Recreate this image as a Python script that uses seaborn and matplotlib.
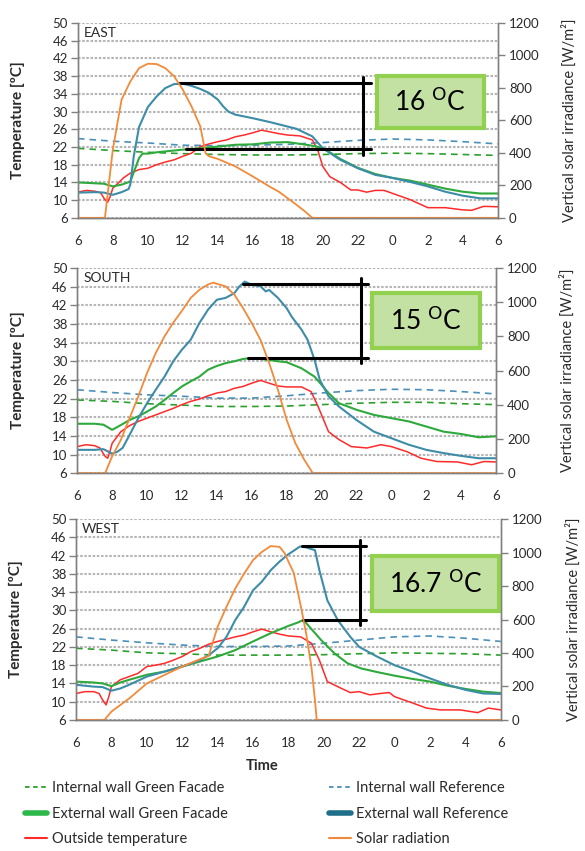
import matplotlib
matplotlib.use("Agg")
import matplotlib.pyplot as plt
import seaborn as sns
from matplotlib.lines import Line2D
from matplotlib.patches import Rectangle

sns.set_style("white")
plt.rcParams['font.family'] = ['Lato', 'DejaVu Sans']
plt.rcParams['mathtext.fontset'] = 'dejavusans'

# ---- data (hours from 6:00, 30 = 6:00 next day; temperatures in ºC, sun in W/m2)
xticks = [6, 8, 10, 12, 14, 16, 18, 20, 22, 24, 26, 28, 30]
xticklabels = ["6", "8", "10", "12", "14", "16", "18", "20", "22", "0", "2", "4", "6"]
wall_h = [6, 8, 10, 12, 14, 16, 18, 20, 22, 24, 26, 28, 30]

# EAST
east_sun_h = [6, 7.55, 8, 8.5, 9, 9.5, 10, 10.5, 11, 11.5, 12, 12.5, 13, 13.3, 13.5, 14, 15, 16, 17, 17.5, 18, 18.5, 19, 19.4, 30]
east_sun_w = [0, 0, 420, 728, 840, 922, 949, 947, 922, 872, 789, 686, 563, 398, 379, 363, 317, 255, 190, 160, 120, 80, 38, 0, 0]
east_ref_h = [6, 7, 7.5, 8, 8.5, 8.9, 9.0, 9.2, 9.5, 10, 10.5, 11, 11.5, 12, 12.5, 13, 13.5, 14, 14.3, 14.6, 15, 16, 17, 18, 18.5, 19.4, 20, 21, 22, 23, 24, 25, 26, 27, 28, 29, 30]
east_ref_t = [11.7, 11.8, 11.7, 11.2, 11.8, 12.5, 13.5, 20.0, 26.5, 31.0, 33.4, 35.3, 36.2, 36.3, 35.8, 35.1, 34.2, 32.7, 31.2, 30.0, 29.3, 28.5, 27.6, 26.6, 26.1, 24.4, 21.7, 19.1, 17.2, 15.7, 15.0, 14.1, 13.1, 11.9, 11.0, 10.4, 10.4]
east_gf_h = [6, 7, 7.5, 8, 8.5, 9, 9.5, 9.7, 10, 10.5, 11, 12, 13, 14, 15, 16, 17, 18, 19.4, 20, 21, 22, 23, 24, 25, 26, 27, 28, 29, 30]
east_gf_t = [14.0, 13.8, 13.7, 13.1, 13.5, 14.2, 19.5, 20.5, 20.5, 20.8, 21.0, 21.4, 21.7, 22.1, 22.5, 22.6, 23.0, 23.1, 22.3, 21.8, 19.3, 17.3, 15.9, 15.0, 14.4, 13.5, 12.6, 11.9, 11.5, 11.5]
east_out_h = [6, 6.5, 7, 7.3, 7.5, 7.7, 7.85, 8, 8.3, 8.6, 9, 9.5, 10, 10.5, 11, 11.5, 12, 12.5, 13, 13.5, 14, 14.5, 15, 15.5, 16, 16.5, 17, 17.5, 18, 18.7, 19.4, 19.7, 20, 20.4, 21, 21.6, 22, 22.5, 23, 23.5, 24, 25, 25.5, 26, 27, 28, 28.5, 29.2, 30]
east_out_t = [11.8, 12.2, 12.0, 11.7, 10.4, 9.5, 10.8, 12.7, 13.8, 15.0, 16.1, 16.9, 17.2, 18.0, 18.6, 19.1, 19.9, 20.6, 22.1, 22.7, 23.2, 23.6, 24.3, 24.7, 25.2, 25.8, 25.4, 25.0, 24.7, 24.5, 23.6, 21.4, 17.6, 15.3, 14.0, 12.3, 12.3, 11.8, 12.2, 12.2, 11.5, 10.1, 9.2, 8.3, 8.3, 7.8, 7.7, 8.6, 8.5]
east_int_ref = [23.9, 23.3, 22.9, 22.4, 22.3, 22.4, 22.6, 23.0, 23.5, 23.8, 23.6, 23.2, 22.7]
east_int_gf = [21.7, 21.2, 20.8, 20.5, 20.3, 20.2, 20.2, 20.3, 20.5, 20.6, 20.5, 20.3, 20.1]

# SOUTH
south_sun_h = [6, 7.6, 8, 8.5, 9, 9.5, 10, 10.5, 11, 11.5, 12, 12.5, 13, 13.5, 13.8, 14, 14.5, 15, 15.5, 16, 16.5, 17, 17.5, 18, 18.5, 19, 19.5, 30]
south_sun_w = [0, 0, 98, 195, 322, 449, 586, 703, 800, 880, 950, 1025, 1073, 1104, 1115, 1108, 1093, 1045, 966, 878, 780, 644, 488, 312, 175, 80, 0, 0]
south_ref_h = [6, 7, 7.5, 8, 8.3, 8.6, 9, 9.5, 10, 10.5, 11, 11.5, 12, 12.5, 13, 13.5, 14, 14.5, 15, 15.3, 15.6, 16, 16.5, 16.8, 17, 17.5, 18, 18.3, 18.85, 19.2, 19.6, 19.9, 20.4, 21, 22, 23, 24, 25, 26, 27, 28, 29, 30]
south_ref_t = [11.0, 11.0, 11.15, 10.2, 10.6, 11.4, 14.2, 17.8, 21.0, 23.9, 26.7, 30.0, 32.5, 34.6, 38.2, 41.1, 43.2, 43.6, 44.6, 46.1, 47.1, 46.4, 46.1, 45.0, 45.3, 43.6, 41.4, 39.5, 36.8, 34.6, 30.3, 26.0, 22.5, 20.3, 17.4, 14.9, 13.5, 12.1, 11.0, 10.3, 9.7, 9.2, 9.2]
south_gf_h = [6, 7, 7.5, 8, 8.3, 9, 9.5, 10, 10.5, 11, 11.5, 12, 12.5, 13, 13.5, 14, 14.5, 15, 15.5, 16, 16.5, 17, 17.5, 18, 18.85, 19.6, 20.4, 21, 22, 23, 24, 25, 26, 27, 28, 29, 30]
south_gf_t = [16.6, 16.6, 16.4, 15.3, 15.9, 17.4, 18.2, 19.2, 20.3, 21.7, 23.2, 24.6, 25.7, 26.7, 28.2, 29.0, 29.6, 30.0, 30.5, 30.7, 30.5, 30.3, 30.0, 29.8, 28.5, 26.7, 23.2, 21.0, 19.6, 18.5, 17.8, 17.1, 16.0, 14.9, 14.4, 13.7, 13.9]
south_out_h = [6, 6.5, 7, 7.3, 7.6, 7.75, 7.9, 8, 8.5, 9, 9.5, 10, 10.5, 11, 11.5, 12, 12.5, 13, 13.5, 14, 14.5, 15, 15.5, 16, 16.5, 17, 17.5, 18, 18.85, 19.4, 19.8, 20.4, 21, 21.7, 22.6, 23.4, 24, 24.9, 25.7, 26.6, 27.8, 28.6, 29.3, 30]
south_out_t = [11.7, 12.1, 11.9, 11.4, 9.6, 9.2, 11.0, 12.4, 14.9, 16.2, 17.1, 17.8, 18.5, 19.2, 19.9, 20.7, 21.4, 21.9, 22.6, 23.2, 23.5, 24.2, 24.6, 25.3, 25.9, 25.3, 24.7, 24.5, 24.5, 23.5, 20.3, 14.9, 13.2, 11.7, 11.4, 12.1, 11.7, 10.6, 9.2, 8.5, 8.4, 7.8, 8.5, 8.4]
south_int_ref = [23.9, 23.3, 22.8, 22.5, 22.1, 22.1, 22.6, 23.2, 23.7, 24.0, 23.9, 23.5, 23.0]
south_int_gf = [21.7, 21.4, 20.9, 20.6, 20.3, 20.3, 20.4, 20.7, 21.0, 21.2, 21.2, 20.9, 20.7]

# WEST
west_sun_h = [6, 7.6, 8, 9, 10, 11, 12, 13, 13.5, 13.6, 14, 14.5, 15, 15.5, 16, 16.5, 17, 17.5, 17.8, 18, 18.3, 18.5, 18.7, 19, 19.3, 19.5, 19.6, 30]
west_sun_w = [0, 0, 50, 128, 218, 269, 319, 363, 382, 420, 557, 676, 786, 875, 955, 1004, 1039, 1034, 995, 946, 880, 780, 680, 518, 318, 119, 0, 0]
west_ref_h = [6, 7, 7.5, 8, 8.5, 9, 10, 11, 12, 13, 13.5, 14, 14.5, 15, 15.5, 16, 16.5, 17, 17.5, 18, 18.35, 18.65, 18.9, 19.5, 19.75, 20.2, 20.8, 21.5, 22, 23, 24, 25, 26, 27, 28, 29, 30]
west_ref_t = [13.7, 13.3, 13.2, 12.4, 12.9, 13.7, 15.5, 16.6, 17.7, 19.1, 20.2, 21.7, 24.2, 27.9, 30.8, 34.4, 36.3, 38.8, 40.7, 42.3, 43.2, 44.0, 43.9, 43.2, 38.8, 32.2, 27.8, 24.2, 22.0, 19.9, 18.0, 16.6, 15.1, 13.7, 12.6, 11.8, 11.7]
west_gf_h = [6, 7, 7.5, 8, 8.5, 9, 10, 11, 12, 13, 14, 15, 16, 17, 18, 18.5, 18.85, 19.85, 20.6, 21.35, 22.1, 23, 24, 25, 26, 27, 28, 29, 30]
west_gf_t = [14.4, 14.2, 14.0, 13.4, 14.2, 14.8, 15.9, 16.6, 17.7, 18.8, 19.9, 21.3, 23.2, 25.0, 26.6, 27.3, 27.9, 23.5, 20.6, 18.4, 17.3, 16.5, 15.7, 15.0, 14.4, 13.5, 12.8, 12.2, 11.9]
west_out_h = [6, 6.5, 7, 7.3, 7.5, 7.7, 7.85, 8, 8.5, 9, 9.5, 10, 10.5, 11, 11.5, 12, 12.5, 13, 13.5, 14, 14.5, 15, 15.5, 16, 16.5, 17, 17.5, 18, 18.7, 19.3, 19.75, 20.2, 21, 21.5, 22, 22.6, 23.2, 23.7, 24, 25.1, 25.8, 26.6, 27.7, 28.7, 29.3, 30]
west_out_t = [11.8, 12.2, 12.2, 11.8, 10.4, 9.3, 11.1, 13.3, 14.8, 15.5, 16.2, 17.7, 18.0, 18.4, 19.1, 19.9, 21.0, 21.7, 22.6, 23.2, 23.7, 24.2, 24.6, 25.3, 25.9, 25.3, 24.8, 24.4, 24.2, 22.8, 19.1, 14.4, 12.9, 12.0, 12.2, 11.5, 11.8, 12.0, 11.1, 9.6, 8.6, 8.2, 8.2, 7.6, 8.6, 8.2]
west_int_ref = [24.2, 23.5, 22.9, 22.4, 22.1, 22.1, 22.2, 22.8, 23.5, 24.2, 24.4, 23.9, 23.2]
west_int_gf = [21.7, 21.3, 20.7, 20.5, 20.2, 20.2, 20.2, 20.3, 20.5, 20.7, 20.6, 20.5, 20.2]

# difference markers: (top T, bottom T, top start h, bottom start h, bar h, line end h)
east_marks = (36.5, 21.5, 11.8, 12.2, 22.27, 22.78)
south_marks = (46.5, 30.75, 15.5, 15.8, 22.27, 22.67)
west_marks = (44.15, 27.9, 18.75, 18.84, 22.05, 22.4)
east_delta = r"16 $^{\mathrm{O}}$C"
south_delta = r"15 $^{\mathrm{O}}$C"
west_delta = r"16.7 $^{\mathrm{O}}$C"
# box extents (h0, h1, T0, T1)
east_box = (23.1, 29.2, 26.3, 38.0)
south_box = (22.9, 29.1, 32.8, 44.6)
west_box = (22.7, 29.9, 29.9, 41.9)

# ---- styles
C_GF_INT = "#2ca02c"
C_REF_INT = "#4a90b8"
C_GF_EXT = "#2eaa3c"
C_REF_EXT = "#3d8ca8"
C_OUT = "#ff2a2a"
C_SUN = "#f28a3a"
GRAY = "#808080"
TXT = "#2a2a2a"

fig = plt.figure(figsize=(5.85, 8.51), dpi=100)

panels = [
    ("EAST", [0.133, 0.744, 0.718, 0.229], east_sun_h, east_sun_w, east_ref_h, east_ref_t,
     east_gf_h, east_gf_t, east_out_h, east_out_t, east_int_ref, east_int_gf, east_marks, east_box, east_delta),
    ("SOUTH", [0.132, 0.444, 0.716, 0.241], south_sun_h, south_sun_w, south_ref_h, south_ref_t,
     south_gf_h, south_gf_t, south_out_h, south_out_t, south_int_ref, south_int_gf, south_marks, south_box, south_delta),
    ("WEST", [0.130, 0.154, 0.726, 0.236], west_sun_h, west_sun_w, west_ref_h, west_ref_t,
     west_gf_h, west_gf_t, west_out_h, west_out_t, west_int_ref, west_int_gf, west_marks, west_box, west_delta),
]

for (name, rect, sun_h, sun_w, ref_h, ref_t, gf_h, gf_t, out_h, out_t,
     int_ref, int_gf, marks, box, delta) in panels:
    ax = fig.add_axes(rect)
    ax2 = ax.twinx()

    kw = dict(ax=ax, estimator=None, errorbar=None, sort=False, legend=False)
    sns.lineplot(x=wall_h, y=int_ref, color=C_REF_INT, lw=1.2, linestyle=(0, (4, 3)), **kw)
    sns.lineplot(x=wall_h, y=int_gf, color=C_GF_INT, lw=1.2, linestyle=(0, (4, 3)), **kw)
    sns.lineplot(x=out_h, y=out_t, color=C_OUT, lw=1.1, **kw)
    sns.lineplot(x=gf_h, y=gf_t, color=C_GF_EXT, lw=1.5, **kw)
    sns.lineplot(x=ref_h, y=ref_t, color=C_REF_EXT, lw=1.5, **kw)
    sns.lineplot(x=sun_h, y=sun_w, ax=ax2, color=C_SUN, lw=1.3,
                 estimator=None, errorbar=None, sort=False, legend=False)

    ax.set_xlim(6, 30)
    ax.set_ylim(6, 50)
    ax2.set_ylim(0, 1200)
    ax.set_xticks(xticks)
    ax.set_xticklabels(xticklabels)
    ax.set_yticks(list(range(6, 51, 4)))
    ax2.set_yticks(list(range(0, 1201, 200)))
    ax.yaxis.grid(True, color="#b5b5b5", lw=1.5, linestyle=(0, (1.2, 0.8)))
    ax.set_axisbelow(True)

    for a in (ax, ax2):
        a.spines["top"].set_visible(False)
        for s in ("left", "right", "bottom"):
            a.spines[s].set_color(GRAY)
            a.spines[s].set_linewidth(1.0)
        a.tick_params(colors=GRAY, labelcolor=TXT, labelsize=9.5, length=5, width=1, direction="out")
    ax.tick_params(axis="x", pad=7)
    ax.tick_params(axis="y", pad=2)
    ax2.tick_params(axis="y", pad=3)

    ax.set_ylabel("Temperature [ºC]", fontsize=11, fontweight="bold", color=TXT)
    ax.yaxis.set_label_coords(-0.125, 0.5)
    ax2.set_ylabel("Vertical solar irradiance [W/m²]", fontsize=10.5, color=TXT)
    ax2.yaxis.set_label_coords(1.152, 0.5)
    ax.set_xlabel("")

    ax.text(6.35, 47.8, name, fontsize=10, color=TXT, va="center", ha="left")

    top, bot, h_top, h_bot, h_bar, h_end = marks
    ax.plot([h_top, h_end], [top, top], color="black", lw=2.2, clip_on=False, zorder=6)
    ax.plot([h_bot, h_end], [bot, bot], color="black", lw=2.2, clip_on=False, zorder=6)
    ax.plot([h_bar, h_bar], [top + 1.3, bot - 1.2], color="black", lw=2.2, clip_on=False, zorder=6)

    h0, h1, t0, t1 = box
    ax.add_patch(Rectangle((h0, t0), h1 - h0, t1 - t0, facecolor="#c4e1a4",
                           edgecolor="#92d050", lw=3, clip_on=False, zorder=7))
    ax.text((h0 + h1) / 2, (t0 + t1) / 2, delta, fontsize=19, ha="center", va="center",
            color="black", zorder=8)

fig.text(0.448, 0.0995, "Time", fontsize=10.5, fontweight="bold", color=TXT, ha="center", va="center")

dash = (0, (2.5, 2))
left_handles = [
    Line2D([], [], color=C_GF_INT, lw=1.3, linestyle=dash),
    Line2D([], [], color="#2db84a", lw=4),
    Line2D([], [], color=C_OUT, lw=1.5),
]
left_labels = ["Internal wall Green Facade", "External wall Green Facade", "Outside temperature"]
right_handles = [
    Line2D([], [], color=C_REF_INT, lw=1.3, linestyle=dash),
    Line2D([], [], color="#1f6f8b", lw=4),
    Line2D([], [], color=C_SUN, lw=1.5),
]
right_labels = ["Internal wall Reference", "External wall Reference", "Solar radiation"]

leg_kw = dict(frameon=False, fontsize=10.5, handlelength=1.5, handletextpad=0.35,
              labelspacing=0.8, borderaxespad=0, labelcolor=TXT)
fig.legend(left_handles, left_labels, loc="upper left", bbox_to_anchor=(0.033, 0.089), **leg_kw)
fig.legend(right_handles, right_labels, loc="upper left", bbox_to_anchor=(0.553, 0.089), **leg_kw)

fig.savefig("out.png", dpi=100)
